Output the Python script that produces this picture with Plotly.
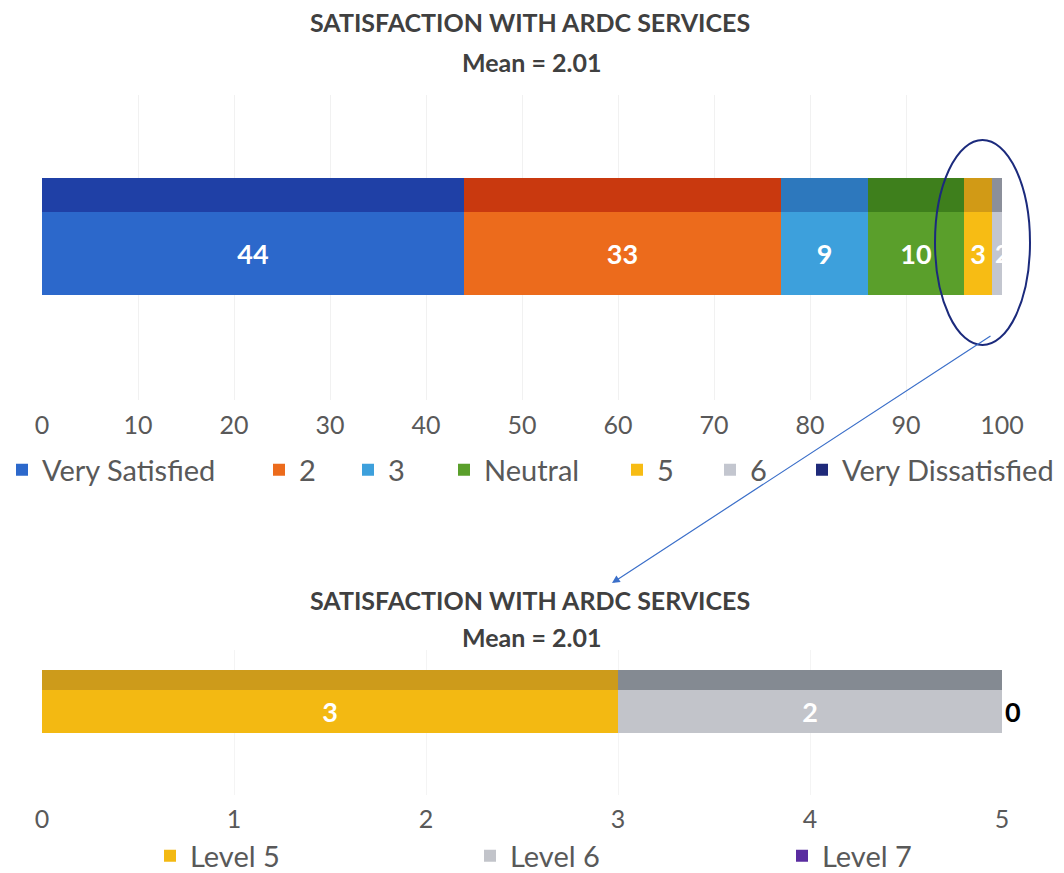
import plotly.graph_objects as go

# ---------------- data ----------------
top_categories = ["Very Satisfied", "2", "3", "Neutral", "5", "6", "Very Dissatisfied"]
top_values = [44, 33, 9, 10, 3, 2, 0]
top_colors = ["#2C68CB", "#EC6B1C", "#3DA0DC", "#5A9F2B", "#F7BC14", "#C3C6CF", "#1F2A7A"]
top_band_colors = ["#1F40A6", "#C9390F", "#2D78BD", "#3E7F1C", "#D19A16", "#8B8F9A", "#141C55"]

bottom_categories = ["Level 5", "Level 6", "Level 7"]
bottom_values = [3, 2, 0]
bottom_colors = ["#F3B912", "#C2C4CA", "#5A2CA0"]
bottom_band_colors = ["#CD9B1B", "#848A92", "#3A1A70"]

title_main = "SATISFACTION WITH ARDC SERVICES"
title_mean = "Mean = 2.01"
top_ticks = list(range(0, 101, 10))
bottom_ticks = [0, 1, 2, 3, 4, 5]

# ---------------- layout helpers ----------------
# the page body adds an 8px offset; the figure fills the rest of the window
OFF = 8
W, H = 1064 - OFF, 873 - OFF


def px(x):
    return (x - OFF) / W


def py(y):
    return 1 - (y - OFF) / H


FAM = "Lato, Open Sans, sans-serif"
TICK_FONT = dict(family=FAM, size=25, color="#595959")
LEGEND_FONT = dict(family=FAM, size=29, color="#595959")
TITLE_FONT = dict(family=FAM, size=25, color="#404040", weight="bold")

fig = go.Figure()

top_legend_text_x = [42, 299, 388, 484, 657, 750, 842]
bottom_legend_text_x = [190, 510, 822]


def add_stack(values, names, colors, band_colors, xa, ya, lower_w, band_w, legend_ids, label_zero_outside):
    base = 0
    for i, (v, n, c, bc) in enumerate(zip(values, names, colors, band_colors)):
        outside = label_zero_outside and v == 0
        fig.add_trace(go.Bar(
            y=[0], x=[v], base=[base], orientation="h", name=n,
            marker=dict(color=c, line=dict(width=0)),
            offset=-0.5, width=lower_w,
            text=[str(v)] if (v > 0 or outside) else None,
            texttemplate="%{text}",
            textposition="outside" if outside else "inside",
            insidetextanchor="middle", textangle=0,
            textfont=dict(family=FAM, size=27,
                          color="black" if outside else "white", weight="bold"),
            cliponaxis=not outside,
            xaxis=xa, yaxis=ya, legend=legend_ids[i], hoverinfo="skip",
        ))
        fig.add_trace(go.Bar(
            y=[0], x=[v], base=[base], orientation="h", name=n,
            marker=dict(color=bc, line=dict(width=0)),
            offset=-0.5 + lower_w, width=band_w,
            xaxis=xa, yaxis=ya, showlegend=False, hoverinfo="skip",
        ))
        base += v


top_legend_ids = ["legend"] + [f"legend{i}" for i in range(2, 8)]
bottom_legend_ids = [f"legend{i}" for i in range(8, 11)]

add_stack(top_values, top_categories, top_colors, top_band_colors, "x", "y",
          (295 - 212) / 117, (212 - 178) / 117, top_legend_ids, False)
add_stack(bottom_values, bottom_categories, bottom_colors, bottom_band_colors, "x2", "y2",
          (733 - 690) / 63, (690 - 670) / 63, bottom_legend_ids, True)

layout = dict(
    width=W, height=H, margin=dict(l=0, r=0, t=0, b=0, autoexpand=False),
    paper_bgcolor="white", plot_bgcolor="white",
    barmode="overlay", bargap=0,
    xaxis=dict(domain=[px(42), px(1002)], range=[0, 100], tickvals=top_ticks,
               showgrid=True, gridcolor="#F1F1F1", gridwidth=1, zeroline=False,
               showline=False, ticks="", tickfont=TICK_FONT, anchor="y",
               ticklabelstandoff=8, fixedrange=True),
    yaxis=dict(domain=[py(400), py(95)], range=[-(400 - 236.5) / 117, (236.5 - 95) / 117],
               showgrid=False, zeroline=False, showticklabels=False, showline=False,
               anchor="x", fixedrange=True),
    xaxis2=dict(domain=[px(42), px(1002)], range=[0, 5], tickvals=bottom_ticks,
                showgrid=True, gridcolor="#F4F4F4", gridwidth=1, zeroline=False,
                showline=False, ticks="", tickfont=TICK_FONT, anchor="y2",
                ticklabelstandoff=7, fixedrange=True),
    yaxis2=dict(domain=[py(795), py(650)], range=[-(795 - 701.5) / 63, (701.5 - 650) / 63],
                showgrid=False, zeroline=False, showticklabels=False, showline=False,
                anchor="x2", fixedrange=True),
)

for lid, tx in zip(top_legend_ids, top_legend_text_x):
    layout[lid] = dict(x=px(tx - 40), y=py(470), xanchor="left", yanchor="middle",
                       orientation="h", font=LEGEND_FONT, bgcolor="rgba(0,0,0,0)",
                       borderwidth=0)
for lid, tx in zip(bottom_legend_ids, bottom_legend_text_x):
    layout[lid] = dict(x=px(tx - 40), y=py(856), xanchor="left", yanchor="middle",
                       orientation="h", font=LEGEND_FONT, bgcolor="rgba(0,0,0,0)",
                       borderwidth=0)

fig.update_layout(**layout)

# titles
for y1, y2 in [(22, 62), (600, 637)]:
    fig.add_annotation(text=title_main, x=px(530), y=py(y1), xref="paper", yref="paper",
                       showarrow=False, font=TITLE_FONT, xanchor="center", yanchor="middle")
    fig.add_annotation(text=title_mean, x=px(531), y=py(y2), xref="paper", yref="paper",
                       showarrow=False, font=TITLE_FONT, xanchor="center", yanchor="middle")

# callout ellipse and arrow
fig.add_shape(type="circle", xref="paper", yref="paper",
              x0=px(935), x1=px(1030), y0=py(345), y1=py(140),
              line=dict(color="#1B2A7C", width=2))
fig.add_annotation(x=px(612), y=py(583), xref="paper", yref="paper", text="",
                   showarrow=True, ax=992 - 612, ay=335 - 583, arrowhead=2, arrowsize=1.3,
                   arrowwidth=1.2, arrowcolor="#3B6FC9")

fig.write_html("out.html")
